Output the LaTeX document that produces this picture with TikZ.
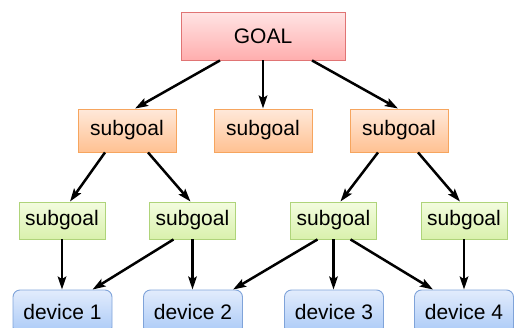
\documentclass[tikz,border=0pt]{standalone}
\usepackage{fontspec}
\setmainfont{Liberation Sans}
\usetikzlibrary{arrows.meta,shadings}
\definecolor{goaltop}{HTML}{FFE4E4}
\definecolor{goalbot}{HTML}{FFAEAE}
\definecolor{goalline}{HTML}{E07474}
\definecolor{subtop}{HTML}{FFE9DA}
\definecolor{subbot}{HTML}{FFC192}
\definecolor{subline}{HTML}{F6A55E}
\definecolor{leaftop}{HTML}{F3FCDF}
\definecolor{leafbot}{HTML}{D9F1AC}
\definecolor{leafline}{HTML}{AFD47A}
\definecolor{devtop}{HTML}{E2ECFC}
\definecolor{devbot}{HTML}{A9C9F7}
\definecolor{devline}{HTML}{7FA3D9}
\tikzset{
  box/.style={inner sep=0pt, font=\fontsize{21}{24}\selectfont, line width=0.9pt},
  goalbox/.style={box, draw=goalline, top color=goaltop, bottom color=goalbot,
    minimum width=164pt, minimum height=48pt},
  subbox/.style={box, draw=subline, top color=subtop, bottom color=subbot,
    minimum width=98pt, minimum height=43pt},
  leafbox/.style={box, draw=leafline, top color=leaftop, bottom color=leafbot,
    minimum width=86pt, minimum height=37pt},
  devbox/.style={box, draw=devline, top color=devtop, bottom color=devbot,
    minimum width=99pt, minimum height=44pt, rounded corners=7pt},
  arr/.style={line width=2.5pt, -{Stealth[length=13pt,width=8.5pt,inset=2.5pt]}}
}
\begin{document}
\begin{tikzpicture}[x=1pt,y=-1pt]
\useasboundingbox (0,0) rectangle (514,327);
% goal
\node[goalbox] (goal) at (263,36) {GOAL};
% first level of subgoals
\node[subbox] (s1) at (127,130.5) {subgoal};
\node[subbox] (s2) at (263,130.5) {subgoal};
\node[subbox] (s3) at (399,130.5) {subgoal};
% second level of subgoals
\node[leafbox] (l1) at (62,220.5) {subgoal};
\node[leafbox] (l2) at (192.5,220.5) {subgoal};
\node[leafbox] (l3) at (333.5,220.5) {subgoal};
\node[leafbox] (l4) at (464,220.5) {subgoal};
% devices
\node[devbox] (d1) at (62.5,312) {device 1};
\node[devbox] (d2) at (193,312) {device 2};
\node[devbox] (d3) at (334,312) {device 3};
\node[devbox] (d4) at (464,312) {device 4};
% goal to subgoals
\draw[arr] ([xshift=-43pt]goal.south) -- ([xshift=8pt]s1.north);
\draw[arr] (goal.south) -- (s2.north);
\draw[arr] ([xshift=49pt]goal.south) -- ([xshift=-1pt]s3.north);
% subgoals to subgoals
\draw[arr] ([xshift=-22pt]s1.south) -- ([xshift=8pt]l1.north);
\draw[arr] ([xshift=21pt]s1.south) -- ([xshift=-2pt]l2.north);
\draw[arr] ([xshift=-21pt]s3.south) -- ([xshift=7pt]l3.north);
\draw[arr] ([xshift=19pt]s3.south) -- ([xshift=-4pt]l4.north);
% subgoals to devices
\draw[arr] (l1.south) -- ([xshift=-0.5pt]d1.north);
\draw[arr] ([xshift=-19pt]l2.south) -- ([xshift=30pt]d1.north);
\draw[arr] (l2.south) -- ([xshift=-0.5pt]d2.north);
\draw[arr] ([xshift=-16pt]l3.south) -- ([xshift=40pt]d2.north);
\draw[arr] (l3.south) -- ([xshift=-0.5pt]d3.north);
\draw[arr] ([xshift=17pt]l3.south) -- ([xshift=-31pt]d4.north);
\draw[arr] (l4.south) -- (d4.north);
\end{tikzpicture}
\end{document}
